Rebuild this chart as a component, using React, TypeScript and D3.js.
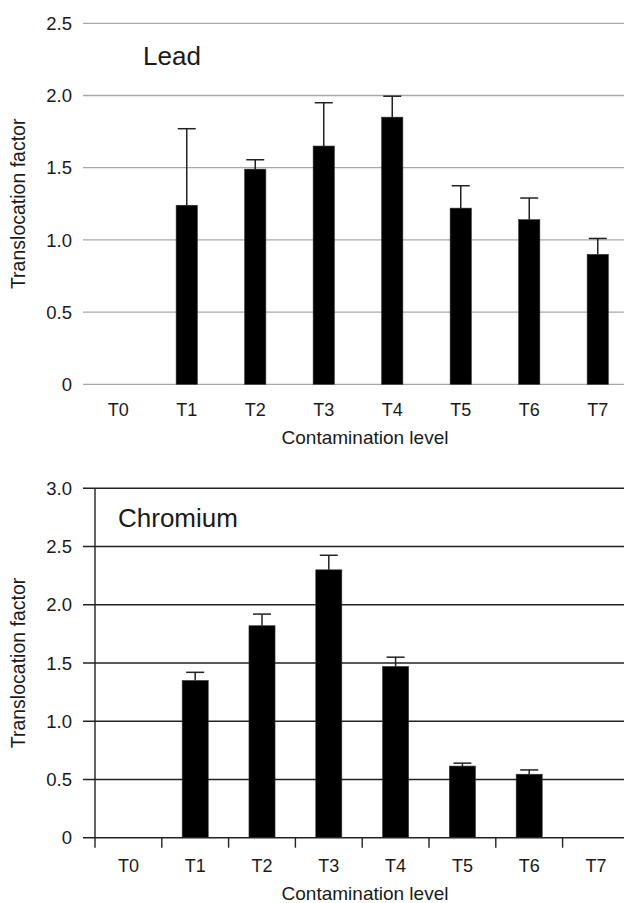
import React from 'react';
import * as d3 from 'd3';

const categories = ['T0', 'T1', 'T2', 'T3', 'T4', 'T5', 'T6', 'T7'];
const leadMeans = [0, 1.24, 1.49, 1.65, 1.85, 1.22, 1.14, 0.9];
const leadErrors = [0, 0.53, 0.065, 0.3, 0.145, 0.155, 0.15, 0.11];
const leadTicks = [0, 0.5, 1.0, 1.5, 2.0, 2.5];
const chromiumMeans = [0, 1.35, 1.82, 2.3, 1.47, 0.615, 0.545, 0];
const chromiumErrors = [0, 0.07, 0.1, 0.125, 0.08, 0.025, 0.037, 0];
const chromiumTicks = [0, 0.5, 1.0, 1.5, 2.0, 2.5, 3.0];

const FONT = "'Liberation Sans', Arial, Helvetica, sans-serif";
const fmt = (v: number) => (v === 0 ? '0' : d3.format('.1f')(v));

type PanelProps = {
  title: string;
  titleX: number;
  titleY: number;
  means: number[];
  errors: number[];
  ticks: number[];
  yMax: number;
  yTop: number;
  yBottom: number;
  xStart: number;
  xEnd: number;
  barFrac: number;
  gridColor: string;
  gridWidth: number;
  axisX: number | null;
  showXTicks: boolean;
  tickLabelY: number;
  axisTitleY: number;
};

function Panel(p: PanelProps) {
  const x = d3.scaleBand<string>().domain(categories).range([p.xStart, p.xEnd]).padding(0);
  const y = d3.scaleLinear().domain([0, p.yMax]).range([p.yBottom, p.yTop]);
  const bw = x.bandwidth() * p.barFrac;
  const capW = 18;
  const gridLeft = 83;
  return (
    <g>
      {p.ticks.map((t) => (
        <g key={t}>
          <line x1={gridLeft} x2={640} y1={y(t)} y2={y(t)} stroke={p.gridColor} strokeWidth={p.gridWidth} />
          <text x={72} y={y(t)} dy="0.36em" textAnchor="end" fontSize={18.5} fontFamily={FONT} fill="#1a1a1a">
            {fmt(t)}
          </text>
        </g>
      ))}
      {p.axisX !== null && (
        <line x1={p.axisX} x2={p.axisX} y1={y(p.yMax)} y2={y(0) + 10} stroke="#222" strokeWidth={1.4} />
      )}
      {p.showXTicks &&
        categories.slice(1).map((c) => (
          <line key={c} x1={x(c)!} x2={x(c)!} y1={y(0)} y2={y(0) + 10} stroke="#222" strokeWidth={1.4} />
        ))}
      {categories.map((c, i) => {
        const cx = x(c)! + x.bandwidth() / 2;
        const v = p.means[i];
        const e = p.errors[i];
        return (
          <g key={c}>
            {v > 0 && (
              <rect x={cx - bw / 2} y={y(v)} width={bw} height={y(0) - y(v)} fill="#000" stroke="#333" strokeWidth={0.6} />
            )}
            {v > 0 && e > 0 && (
              <g stroke="#222" strokeWidth={1.5}>
                <line x1={cx} x2={cx} y1={y(v)} y2={y(v + e)} />
                <line x1={cx - capW / 2} x2={cx + capW / 2} y1={y(v + e)} y2={y(v + e)} />
              </g>
            )}
            <text x={cx} y={p.tickLabelY} textAnchor="middle" fontSize={18} fontFamily={FONT} fill="#1a1a1a">
              {c}
            </text>
          </g>
        );
      })}
      <text x={p.titleX} y={p.titleY} fontSize={26} fontFamily={FONT} fill="#1a1a1a">
        {p.title}
      </text>
      <text x={365} y={p.axisTitleY} textAnchor="middle" fontSize={19} fontFamily={FONT} fill="#1a1a1a">
        Contamination level
      </text>
      <text
        transform={`translate(25, ${(p.yTop + p.yBottom) / 2}) rotate(-90)`}
        textAnchor="middle"
        fontSize={19.5}
        fontFamily={FONT}
        fill="#1a1a1a"
      >
        Translocation factor
      </text>
    </g>
  );
}

export default function App() {
  return (
    <svg
      width={624}
      height={903}
      viewBox="0 0 624 903"
      style={{ position: 'absolute', left: 0, top: 0, background: '#fff' }}
    >
      <rect width={624} height={903} fill="#fff" />
      <Panel
        title="Lead"
        titleX={143}
        titleY={65}
        means={leadMeans}
        errors={leadErrors}
        ticks={leadTicks}
        yMax={2.5}
        yTop={23.3}
        yBottom={384.3}
        xStart={84}
        xEnd={632}
        barFrac={0.31}
        gridColor="#a8a8a8"
        gridWidth={1.3}
        axisX={null}
        showXTicks={false}
        tickLabelY={416}
        axisTitleY={444}
      />
      <Panel
        title="Chromium"
        titleX={118}
        titleY={526.5}
        means={chromiumMeans}
        errors={chromiumErrors}
        ticks={chromiumTicks}
        yMax={3}
        yTop={488.3}
        yBottom={837.7}
        xStart={95}
        xEnd={629.4}
        barFrac={0.39}
        gridColor="#222"
        gridWidth={1.4}
        axisX={95}
        showXTicks={true}
        tickLabelY={871.5}
        axisTitleY={900}
      />
    </svg>
  );
}
